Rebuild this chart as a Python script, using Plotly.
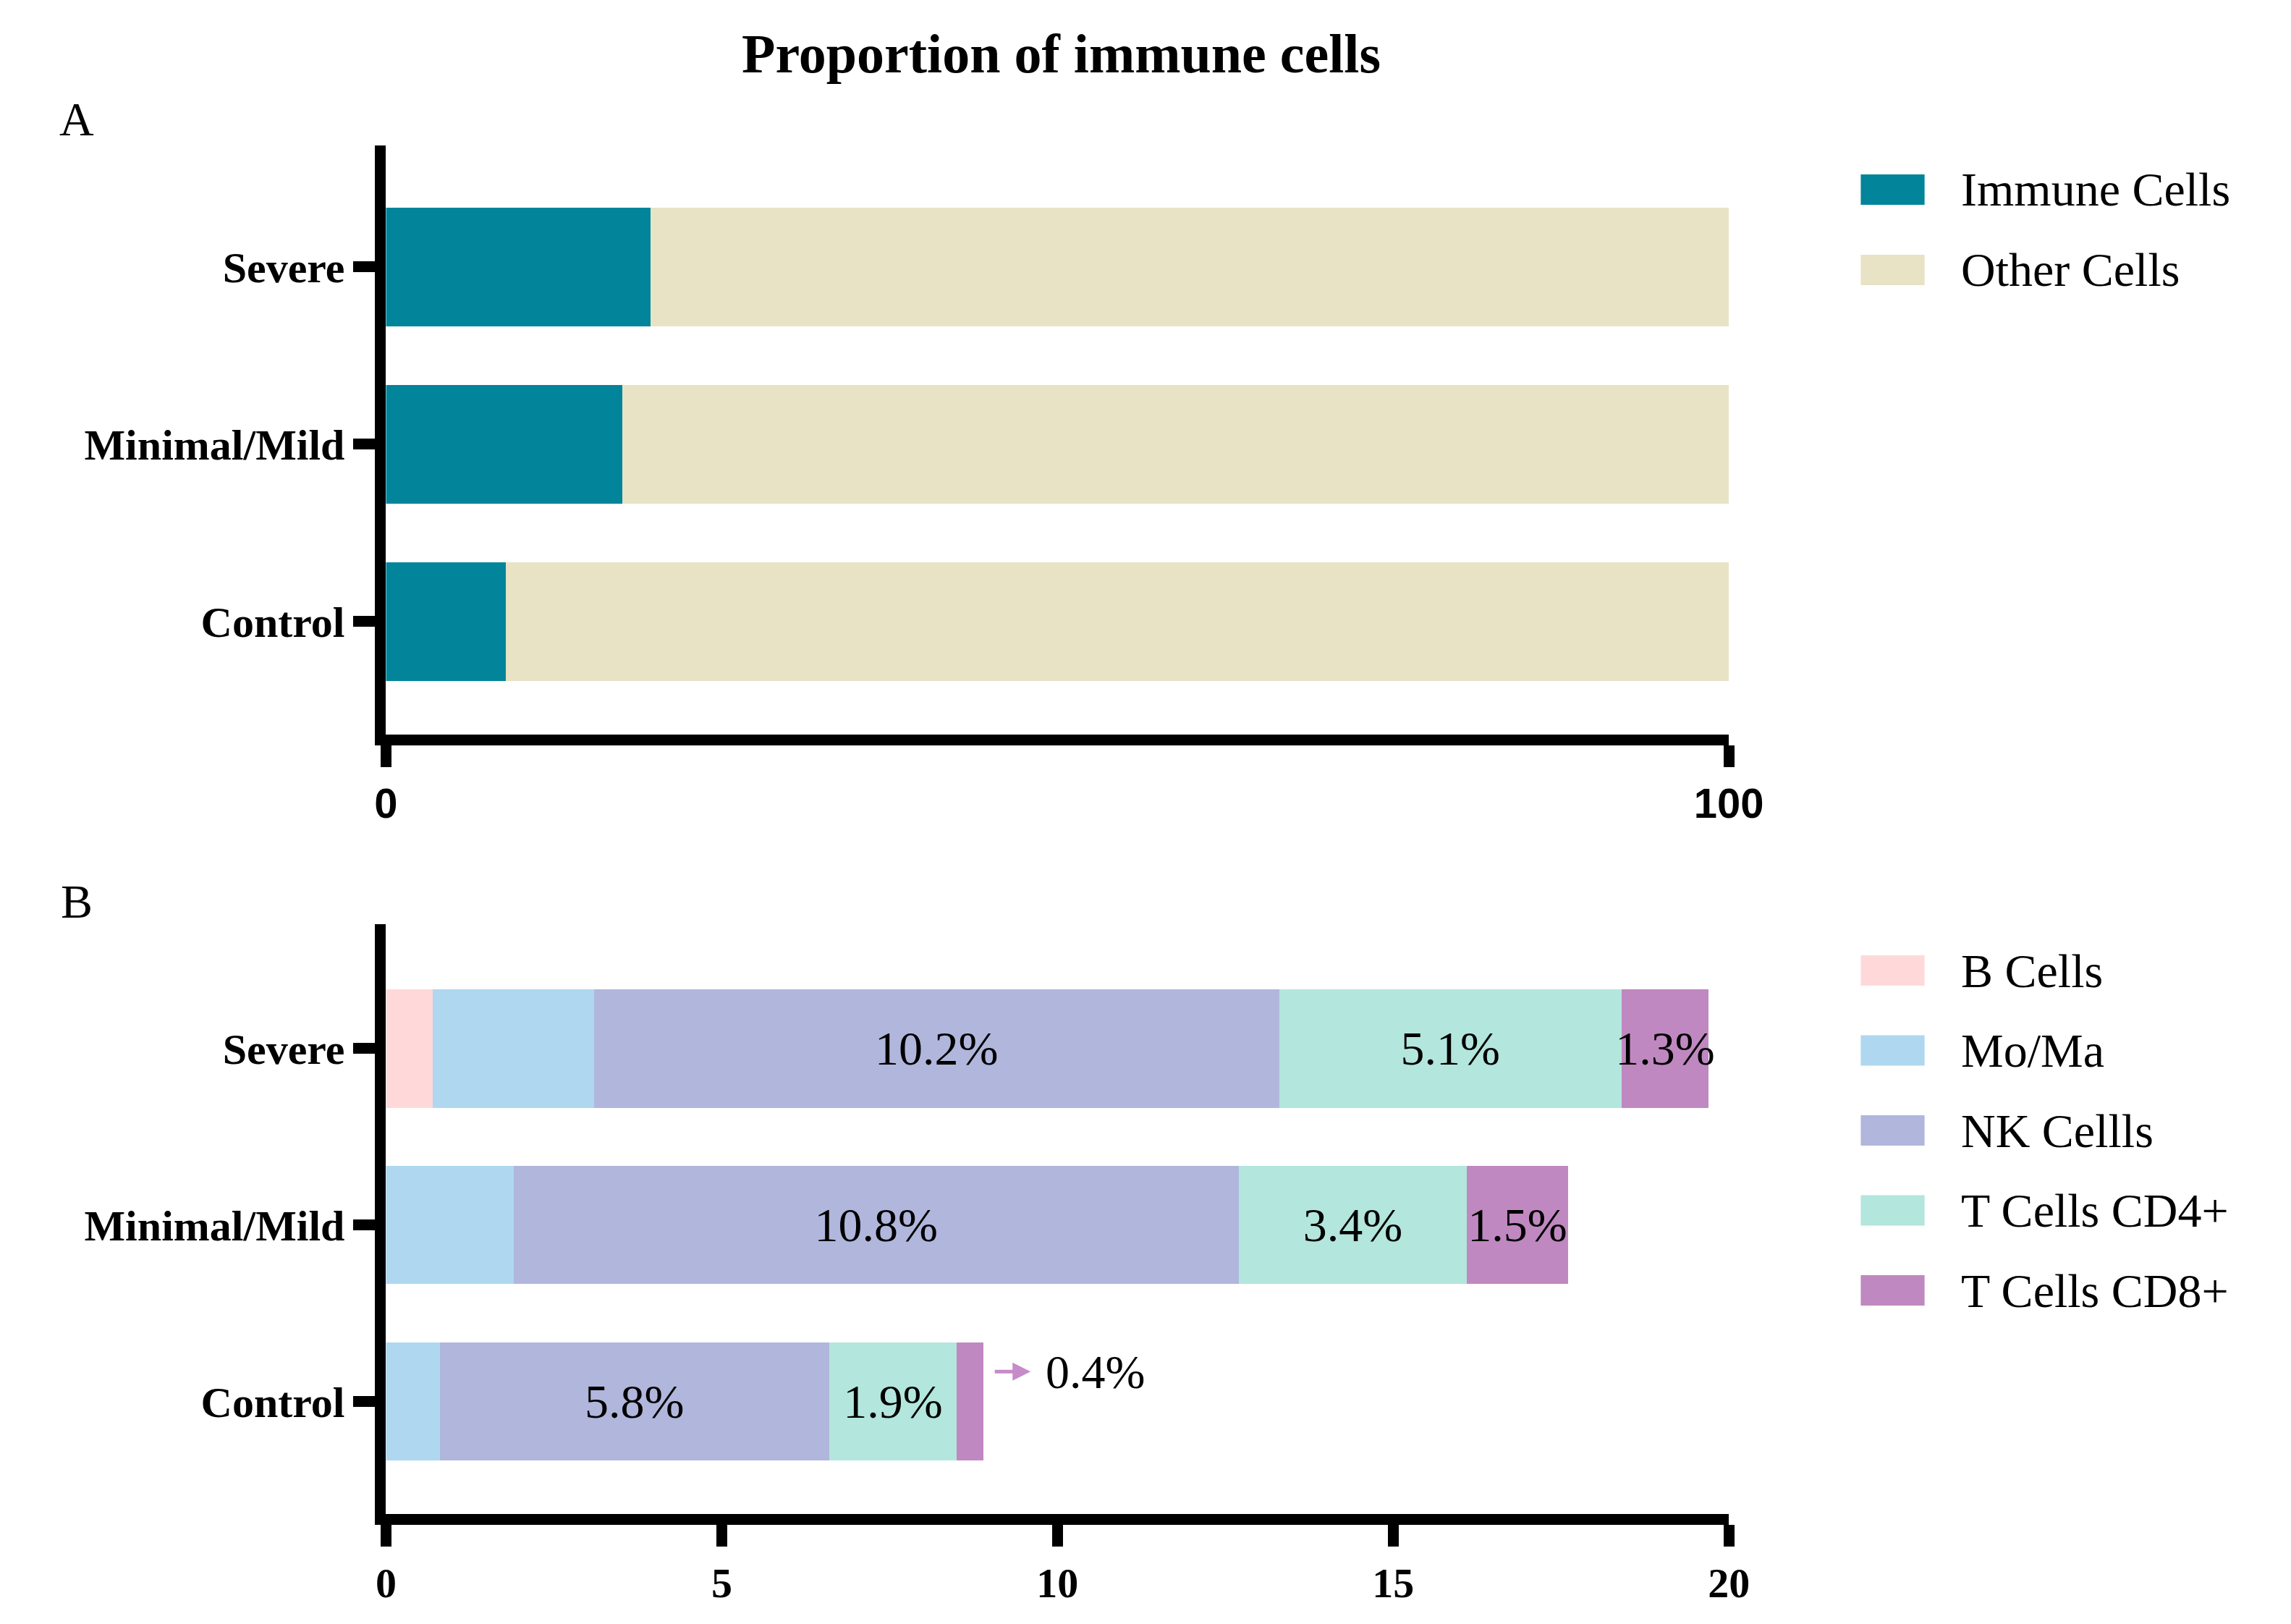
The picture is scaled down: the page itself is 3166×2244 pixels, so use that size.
import plotly.graph_objects as go

# groups, bottom to top
groups = ['Control', 'Minimal/Mild', 'Severe']

# panel A: share of all cells (%)
immune_cells = [8.9, 17.6, 19.7]
other_cells = [100 - v for v in immune_cells]

# panel B: immune sub-populations (% of all cells)
b_cells = [0.0, 0.0, 0.7]
mo_ma = [0.8, 1.9, 2.4]
nk_cells = [5.8, 10.8, 10.2]
cd4_cells = [1.9, 3.4, 5.1]
cd8_cells = [0.4, 1.5, 1.3]

a_names = ['Immune Cells', 'Other Cells']
b_names = ['B Cells', 'Mo/Ma', 'NK Cellls', 'T Cells CD4+', 'T Cells CD8+']

a_colors = ['#02849A', '#E8E3C5']
b_colors = ['#FFD9D9', '#AFD7F0', '#B1B6DC', '#B3E6DD', '#C088C0']

a_ticks = [0, 100]
b_ticks = [0, 5, 10, 15, 20]

W, H = 3166, 2244
serif = 'Liberation Serif'
sans = 'Liberation Sans'


def px(x):
    return x / W


def py(y):
    return 1 - y / H


fig = go.Figure()

for name, vals, col in zip(a_names, [immune_cells, other_cells], a_colors):
    fig.add_trace(go.Bar(
        x=vals, y=groups, orientation='h', name=name,
        marker=dict(color=col, line=dict(width=0)),
        width=0.67, xaxis='x', yaxis='y', showlegend=False,
    ))

b_series = [b_cells, mo_ma, nk_cells, cd4_cells, cd8_cells]
labelled = [False, False, True, True, True]
for name, vals, col, lab in zip(b_names, b_series, b_colors, labelled):
    text = [f'{v:.1f}%' if lab and v >= 1 else '' for v in vals]
    fig.add_trace(go.Bar(
        x=vals, y=groups, orientation='h', name=name,
        marker=dict(color=col, line=dict(width=0)),
        width=0.67, xaxis='x2', yaxis='y2', showlegend=False,
        text=text, textposition='inside', insidetextanchor='middle',
        textangle=0, constraintext='none',
        textfont=dict(family=serif, size=66, color='black'),
    ))

# callout for the tiny CD8+ segment of the control group
control_total = sum(s[0] for s in b_series)
fig.add_annotation(
    x=control_total + 0.7, y=0.17, ax=control_total + 0.15, ay=0.17,
    xref='x2', yref='y2', axref='x2', ayref='y2',
    text='', showarrow=True, arrowhead=2, arrowsize=1.0,
    arrowwidth=5, arrowcolor='#C78BC9',
)
fig.add_annotation(
    x=control_total + 0.9, y=0.17, xref='x2', yref='y2',
    text=f'{cd8_cells[0]:.1f}%', showarrow=False, xanchor='left',
    yanchor='middle', font=dict(family=serif, size=66, color='black'),
)

axis_style = dict(
    showline=True, linewidth=15, linecolor='black',
    ticks='outside', ticklen=30, tickwidth=15, tickcolor='black',
    showgrid=False, zeroline=False,
)
xdom = [px(520), px(2414)]

fig.update_layout(
    width=W, height=H,
    margin=dict(l=0, r=0, t=0, b=0),
    paper_bgcolor='white', plot_bgcolor='white',
    barmode='stack', bargap=0.33,
    xaxis=dict(domain=xdom, anchor='y', range=[0, 100], tickvals=a_ticks,
               tickfont=dict(family=sans, size=58, color='black', weight='bold'),
               **axis_style),
    yaxis=dict(domain=[py(1007), py(193)], anchor='x', type='category',
               categoryorder='array', categoryarray=groups,
               range=[-0.639, 2.686],
               tickfont=dict(family=serif, size=60, color='black', weight='bold'),
               **axis_style),
    xaxis2=dict(domain=xdom, anchor='y2', range=[0, 20], tickvals=b_ticks,
                tickfont=dict(family=serif, size=58, color='black', weight='bold'),
                **axis_style),
    yaxis2=dict(domain=[py(2084), py(1269)], anchor='x2', type='category',
                categoryorder='array', categoryarray=groups,
                range=[-0.637, 2.705],
                tickfont=dict(family=serif, size=60, color='black', weight='bold'),
                **axis_style),
)

# title and panel letters
fig.add_annotation(x=px(1472), y=py(66), xref='paper', yref='paper',
                   text='<b>Proportion of immune cells</b>', showarrow=False,
                   yanchor='middle',
                   font=dict(family=serif, size=76, color='black'))
for letter, (lx, ly) in zip(['A', 'B'], [(57, 157), (59, 1237)]):
    fig.add_annotation(x=px(lx), y=py(ly), xref='paper', yref='paper',
                       text=letter, showarrow=False, yanchor='middle',
                       font=dict(family=serif, size=66, color='black'))


# legends drawn as swatches + labels
def add_legend(names, colors, y0, step):
    for i, (name, col) in enumerate(zip(names, colors)):
        yc = y0 + i * step
        fig.add_shape(type='rect', xref='paper', yref='paper',
                      x0=px(2600), x1=px(2690), y0=py(yc + 21), y1=py(yc - 21),
                      fillcolor=col, line=dict(width=0))
        fig.add_annotation(x=px(2739), y=py(yc), xref='paper', yref='paper',
                           text=name, showarrow=False, xanchor='left',
                           yanchor='middle',
                           font=dict(family=serif, size=66, color='black'))


add_legend(a_names, a_colors, 254, 111)
add_legend(b_names, b_colors, 1333, 110.5)

fig.write_html('out.html')
